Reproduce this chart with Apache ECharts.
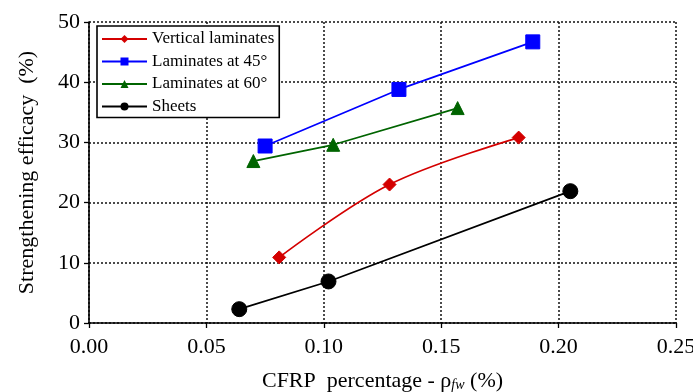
<!DOCTYPE html>
<html>
<head>
<meta charset="utf-8">
<script src="https://cdn.jsdelivr.net/npm/echarts@6/dist/echarts.min.js"></script>
<style>
  html, body { margin: 0; padding: 0; background: #fff; }
  #chart { width: 693px; height: 392px; }
</style>
</head>
<body>
<div id="chart"></div>
<script>
// CFRP reinforcement ratio (%) vs. strengthening efficacy (%)
const xTicks = [0.00, 0.05, 0.10, 0.15, 0.20, 0.25];
const yTicks = [0, 10, 20, 30, 40, 50];

const verticalLaminates = [[0.081, 10.9], [0.128, 23.0], [0.183, 30.8]];
const laminates45 = [[0.075, 29.4], [0.132, 38.8], [0.189, 46.7]];
const laminates60 = [[0.070, 26.9], [0.104, 29.6], [0.157, 35.7]];
const sheets = [[0.064, 2.3], [0.102, 6.9], [0.205, 21.9]];

const serif = '"Liberation Serif", "DejaVu Serif", serif';

const chart = echarts.init(document.getElementById('chart'), null, { renderer: 'canvas' });

function series(name, data, color, symbol, size, smooth) {
  return {
    name, type: 'line', data, symbol, symbolSize: size, smooth: smooth || false,
    lineStyle: { color, width: 1.7 },
    itemStyle: { color, borderColor: color },
    emphasis: { disabled: true },
    z: 3
  };
}

const gridLine = { show: true, lineStyle: { color: '#111', type: [2, 2], width: 1.5 } };

chart.setOption({
  animation: false,
  backgroundColor: '#fff',
  grid: { left: 89, right: 17, top: 22, bottom: 69, containLabel: false, outerBoundsMode: 'none' },
  legend: {
    left: 97, top: 26, orient: 'vertical',
    padding: [4, 5, 2, 4],
    itemGap: 4.5,
    itemWidth: 45, itemHeight: 10,
    backgroundColor: '#fff',
    borderColor: '#000', borderWidth: 1.6, borderRadius: 0,
    textStyle: { fontFamily: serif, fontSize: 17, color: '#000', lineHeight: 18 },
    data: ['Vertical laminates', 'Laminates at 45°', 'Laminates at 60°', 'Sheets']
  },
  xAxis: {
    type: 'value', min: 0, max: 0.25, interval: 0.05,
    name: '{a|CFRP  percentage - ρ}{s|fw}{a| (%)}',
    nameLocation: 'middle', nameGap: 47,
    nameTextStyle: {
      rich: {
        a: { fontFamily: serif, fontSize: 22, color: '#000' },
        s: { fontFamily: serif, fontSize: 14, fontStyle: 'italic', color: '#000', verticalAlign: 'bottom', padding: [8, 0, 0, 0] }
      }
    },
    axisLine: { show: true, lineStyle: { color: '#000', width: 1.6 } },
    axisTick: { show: true, length: 5, lineStyle: { color: '#000', width: 1.3 } },
    axisLabel: {
      fontFamily: serif, fontSize: 22, color: '#000', margin: 13,
      formatter: v => v.toFixed(2)
    },
    splitLine: gridLine
  },
  yAxis: {
    type: 'value', min: 0, max: 50, interval: 10,
    name: 'Strengthening efficacy  (%)',
    nameLocation: 'middle', nameGap: 51,
    nameTextStyle: { fontFamily: serif, fontSize: 22, color: '#000' },
    axisLine: { show: true, lineStyle: { color: '#000', width: 1.6 } },
    axisTick: { show: true, length: 5, lineStyle: { color: '#000', width: 1.3 } },
    axisLabel: { fontFamily: serif, fontSize: 22, color: '#000', margin: 9 },
    splitLine: gridLine
  },
  series: [
    series('Vertical laminates', verticalLaminates, '#d40000', 'diamond', 13, 0.35),
    series('Laminates at 45°', laminates45, '#0000ff', 'rect', 14),
    series('Laminates at 60°', laminates60, '#006400', 'triangle', 13),
    series('Sheets', sheets, '#000000', 'circle', 15)
  ]
});
</script>
</body>
</html>
